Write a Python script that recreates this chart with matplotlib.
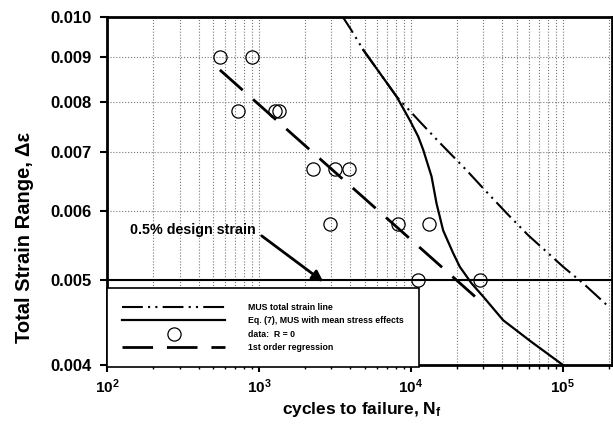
"""
Total strain range vs cycles to failure (MUS lines, data, regression)
"""

import matplotlib
matplotlib.use("Agg")
import matplotlib.pyplot as plt
from matplotlib.ticker import FixedLocator, NullLocator, NullFormatter, LogLocator

# test data, R = 0
cycles_data = [553, 895, 728, 1270, 1350, 2265, 3160, 3900, 2930, 8260, 13100, 11100, 28400]
strain_data = [0.0090, 0.0090, 0.0078, 0.0078, 0.0078, 0.0067, 0.0067, 0.0067,
               0.0058, 0.0058, 0.0058, 0.0050, 0.0050]

# MUS total strain line
mus_cycles = [3500, 4070, 4860, 8050, 11460, 15500, 23240, 29900, 43700, 59100,
              78100, 100500, 136000, 198600]
mus_strain = [0.01005, 0.00965, 0.00917, 0.00811, 0.00759, 0.00718, 0.00668, 0.00637,
              0.00594, 0.00563, 0.00539, 0.00518, 0.00496, 0.00467]

# Eq. (7), MUS with mean stress effects
eq7_cycles = [4860, 8050, 9840, 11170, 12050, 13680, 14750, 16310, 18970, 20990,
              25060, 29900, 40500, 62200, 108400]
eq7_strain = [0.00917, 0.00811, 0.00762, 0.00730, 0.00705, 0.00657, 0.00612, 0.00570,
              0.00537, 0.00518, 0.00496, 0.00479, 0.00450, 0.00425, 0.00396]

# 1st order regression (end points)
reg_cycles = [553, 26400]
reg_strain = [0.0087, 0.00479]

design_strain = 0.005

y_ticks = [0.004, 0.005, 0.006, 0.007, 0.008, 0.009, 0.010]
x_ticks = [1e2, 1e3, 1e4, 1e5]
x_tick_labels = [r"$\mathbf{10^{2}}$", r"$\mathbf{10^{3}}$", r"$\mathbf{10^{4}}$", r"$\mathbf{10^{5}}$"]

plt.rcParams["font.family"] = "Liberation Sans"
plt.rcParams["font.weight"] = "bold"
plt.rcParams["mathtext.fontset"] = "custom"
plt.rcParams["mathtext.rm"] = "Liberation Sans:bold"
plt.rcParams["mathtext.bf"] = "Liberation Sans:bold"
plt.rcParams["mathtext.it"] = "Liberation Sans:bold"

fig = plt.figure(figsize=(6.13, 4.44), dpi=100)
ax = fig.add_axes([0.1746, 0.178, 0.8234, 0.7837])
ax.set_xscale("log")
ax.set_yscale("log")

ax.plot(mus_cycles, mus_strain, color="black", lw=1.5,
        ls=(0, (10, 2.5, 1, 2.5, 1, 2.5)), label="MUS total strain line")
ax.plot(eq7_cycles, eq7_strain, color="black", lw=1.6,
        label="Eq. (7), MUS with mean stress effects")
ax.plot(cycles_data, strain_data, "o", mfc="none", mec="black", ms=9.5, mew=0.9,
        label="data:  R = 0")
ax.plot(reg_cycles, reg_strain, color="black", lw=2, ls=(0, (11, 5)),
        label="1st order regression")
ax.axhline(design_strain, color="black", lw=1.5)

ax.set_xlim(100, 2.1e5)
ax.set_ylim(0.004, 0.010)

ax.xaxis.set_major_locator(FixedLocator(x_ticks))
ax.set_xticklabels(x_tick_labels)
ax.xaxis.set_minor_locator(LogLocator(base=10, subs=range(2, 10), numticks=20))
ax.xaxis.set_minor_formatter(NullFormatter())
ax.yaxis.set_major_locator(FixedLocator(y_ticks))
ax.set_yticklabels(["%.3f" % v for v in y_ticks])
ax.yaxis.set_minor_locator(NullLocator())

ax.tick_params(which="major", direction="out", length=5, width=1.5, labelsize=12, pad=6)
ax.tick_params(axis="x", which="major", labelsize=11, pad=4)
ax.tick_params(which="minor", direction="out", length=3, width=1)
for s in ax.spines.values():
    s.set_linewidth(2)

ax.grid(True, which="both", axis="x", ls=":", color="#777777", lw=0.8)
ax.grid(True, which="major", axis="y", ls=":", color="#777777", lw=0.8)

ax.set_ylabel("Total Strain Range, Δε", fontsize=14.5, fontweight="bold")
ax.yaxis.set_label_coords(-0.145, 0.366)
ax.set_xlabel(r"cycles to failure, $\mathbf{N_f}$", fontsize=12.5, fontweight="bold")
ax.xaxis.set_label_coords(0.504, -0.1)

ax.text(142, 0.0057, "0.5% design strain", fontsize=10.3, fontweight="bold",
        ha="left", va="center")
ax.annotate("", xy=(2650, 0.00498), xytext=(1042, 0.00562),
            arrowprops=dict(arrowstyle="-|>", color="black", lw=2,
                            mutation_scale=16, shrinkA=0, shrinkB=0))

leg = ax.legend(loc="upper left", bbox_to_anchor=(0.0, 0.221), borderaxespad=0,
                fancybox=False, edgecolor="black", framealpha=1,
                prop={"weight": "bold", "size": 6.3}, handlelength=11.8,
                handletextpad=2.6, labelspacing=0.5, borderpad=1.7, numpoints=1)
leg.get_frame().set_linewidth(1.2)

fig.savefig("out.png", dpi=100)
